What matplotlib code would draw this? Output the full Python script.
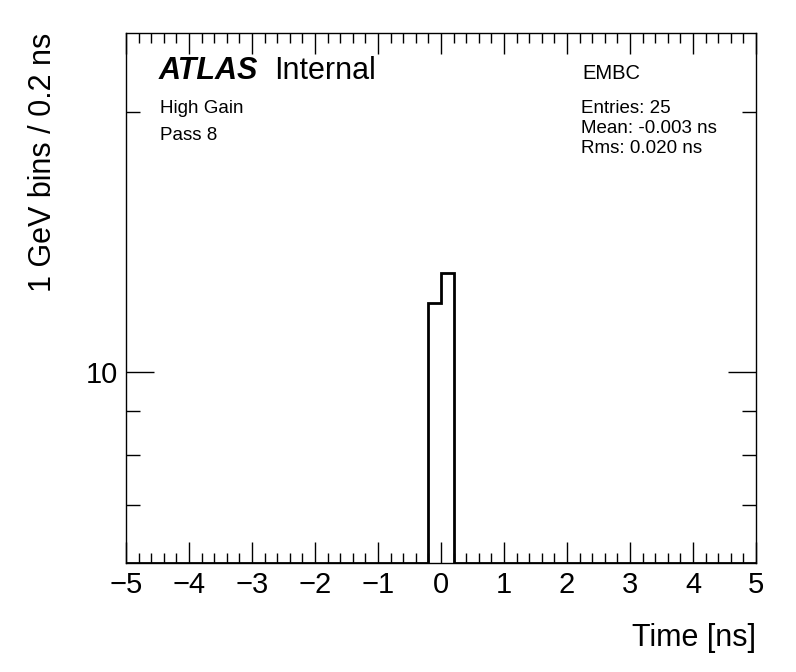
import numpy as np
import matplotlib
matplotlib.use('Agg')
import matplotlib.pyplot as plt
from matplotlib.ticker import MultipleLocator, FixedLocator, NullFormatter, FixedFormatter

plt.rcParams['font.family'] = ['Liberation Sans', 'DejaVu Sans']

# histogram (time in ns), bins of 0.2 ns; outer edges span the full axis range
bin_edges = [-5.0, -0.2, 0.0, 0.2, 5.0]
counts = [0, 12, 13, 0]
y_min, y_max = 6.0, 24.7

fig = plt.figure(figsize=(7.96, 6.72), dpi=100)
ax = fig.add_axes([126/796, 1 - 563/672, 630/796, 530/672])

# ROOT-style: empty bins drawn along the lower edge
vals = np.clip(np.array(counts, dtype=float), y_min, None)
ax.stairs(vals, bin_edges, color='black', linewidth=2, baseline=None, zorder=3)

ax.set_yscale('log')
ax.set_xlim(-5, 5)
ax.set_ylim(y_min, y_max)

ax.xaxis.set_major_locator(MultipleLocator(1))
ax.xaxis.set_minor_locator(MultipleLocator(0.2))
ax.yaxis.set_major_locator(FixedLocator([10]))
ax.yaxis.set_major_formatter(FixedFormatter(['10']))
ax.yaxis.set_minor_locator(FixedLocator([7, 8, 9, 20]))
ax.yaxis.set_minor_formatter(NullFormatter())

ax.tick_params(which='both', direction='in', top=True, right=True, width=1)
ax.tick_params(axis='x', which='major', length=15, labelsize=21, pad=6)
ax.tick_params(axis='x', which='minor', length=7)
ax.tick_params(axis='y', which='major', length=20, labelsize=21, pad=6)
ax.tick_params(axis='y', which='minor', length=10)
for s in ax.spines.values():
    s.set_linewidth(1)

ax.set_xlabel('Time [ns]', fontsize=22, loc='right', labelpad=17)
ax.set_ylabel('1 GeV bins / 0.2 ns', fontsize=22, loc='top', labelpad=20)

# labels
tf = fig.transFigure
ax.text(159/796, 1 - 79/672, 'ATLAS', transform=tf, fontsize=22,
        fontweight='bold', fontstyle='italic')
ax.text(274/796, 1 - 79/672, 'Internal', transform=tf, fontsize=22)
ax.text(160/796, 1 - 113/672, 'High Gain', transform=tf, fontsize=13.5)
ax.text(160/796, 1 - 140/672, 'Pass 8', transform=tf, fontsize=13.5)
ax.text(582/796, 1 - 79/672, 'EMBC', transform=tf, fontsize=14.5)
ax.text(581/796, 1 - 113/672, 'Entries: 25', transform=tf, fontsize=13.5)
ax.text(581/796, 1 - 133/672, 'Mean: -0.003 ns', transform=tf, fontsize=13.5)
ax.text(581/796, 1 - 153/672, 'Rms: 0.020 ns', transform=tf, fontsize=13.5)

fig.savefig('out.png', dpi=100)
